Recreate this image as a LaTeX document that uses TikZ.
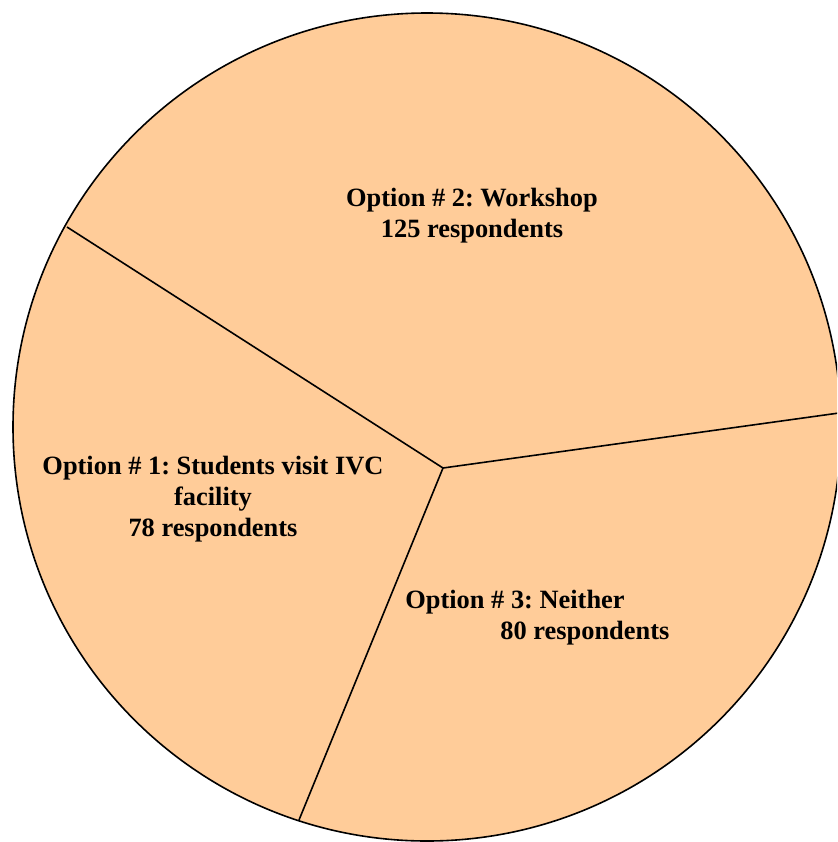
\documentclass[tikz,border=0pt]{standalone}
\usepackage{fontspec}
\setmainfont{Liberation Serif}
\definecolor{pieorange}{HTML}{FFCC99}
\frenchspacing
\begin{document}
\begin{tikzpicture}[x=0.5pt,y=-0.5pt,
    slicelabel/.style={font=\fontsize{13.2}{15.5}\selectfont\bfseries,inner sep=0pt}]
  \useasboundingbox (0,0) rectangle (837,842);
  \clip (0,0) rectangle (837,842);
  % the pie and its three cuts
  \coordinate (ctr) at (427,427);
  \coordinate (hub) at (443,468);
  \coordinate (rimA) at (67,227);
  \coordinate (rimB) at (839,413);
  \coordinate (rimC) at (299,820);
  \draw[line width=0.8pt,fill=pieorange] (ctr) circle[radius=207pt];
  \draw[line width=0.8pt] (hub) -- (rimA);
  \draw[line width=0.8pt] (hub) -- (rimB);
  \draw[line width=0.8pt] (hub) -- (rimC);
  % labels
  \node[slicelabel,align=center] (optTwo) at (472,216)
    {Option \# 2: Workshop\\125 respondents};
  \node[slicelabel,align=center] (optOne) at (213,499)
    {Option \# 1: Students visit IVC\\facility\\78 respondents};
  \node[slicelabel,align=left,anchor=west] (optThree) at (405,618)
    {Option \# 3: Neither\\\hspace*{47.5pt}80 respondents};
\end{tikzpicture}
\end{document}
